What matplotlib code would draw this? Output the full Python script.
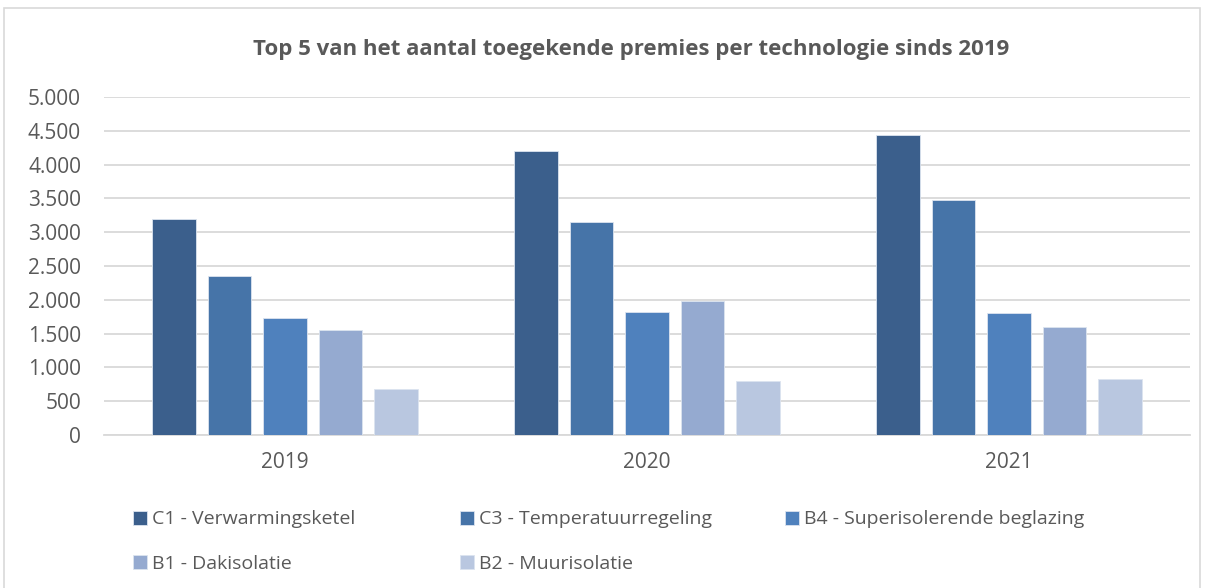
import matplotlib
matplotlib.use("Agg")
import matplotlib.pyplot as plt
import numpy as np
from matplotlib.patches import Rectangle

years = ["2019", "2020", "2021"]
series = ["C1 - Verwarmingsketel", "C3 - Temperatuurregeling",
          "B4 - Superisolerende beglazing", "B1 - Dakisolatie", "B2 - Muurisolatie"]
c1 = [3190, 4195, 4440]
c3 = [2345, 3145, 3470]
b4 = [1735, 1815, 1810]
b1 = [1550, 1980, 1600]
b2 = [680, 800, 825]
values = [c1, c3, b4, b1, b2]
colors = ["#3b5f8c", "#4674a8", "#4f81bd", "#95aad0", "#b9c7e0"]
yticks = [0, 500, 1000, 1500, 2000, 2500, 3000, 3500, 4000, 4500, 5000]
ytick_labels = ["0", "500", "1.000", "1.500", "2.000", "2.500", "3.000",
                "3.500", "4.000", "4.500", "5.000"]

plt.rcParams['font.family'] = ['Open Sans', 'DejaVu Sans']
W, H = 1205, 588
fig = plt.figure(figsize=(W / 100, H / 100), dpi=100)

# chart border
fig.patches.append(Rectangle((4 / W, -0.1), 1196 / W, (H - 8) / H + 0.1,
                             transform=fig.transFigure, fill=False,
                             edgecolor="#d9d9d9", linewidth=1.2))

ax = fig.add_axes([104 / W, (H - 435) / H, 1086 / W, 338 / H])
x = np.arange(len(years))
width = 0.12
pitch = 0.1536
handles = []
for i, (vals, col, name) in enumerate(zip(values, colors, series)):
    b = ax.bar(x + (i - 2) * pitch, vals, width, color=col, edgecolor="#dce4ef",
               linewidth=0.6, label=name, zorder=3)
    handles.append(b)

ax.set_xlim(-0.5, 2.5)
ax.set_ylim(0, 5000)
ax.set_yticks(yticks)
ax.set_yticklabels(ytick_labels)
ax.set_xticks(x)
ax.set_xticklabels(years)
ax.yaxis.grid(True, color="#d9d9d9", linewidth=1.3, zorder=0)
for s in ["top", "right", "left"]:
    ax.spines[s].set_visible(False)
ax.spines["bottom"].set_color("#d9d9d9")
ax.spines["bottom"].set_linewidth(1.3)
ax.tick_params(axis="both", length=0, labelsize=15, labelcolor="#595959")
ax.tick_params(axis="y", pad=16.5)
ax.tick_params(axis="x", pad=12)

fig.text(631 / W, 1 - 50 / H, "Top 5 van het aantal toegekende premies per technologie sinds 2019",
         ha="center", va="center", fontsize=16, fontweight="bold", color="#595959")

# legend entries: (series index, marker left x px, row centre y px)
positions = [(0, 133, 519.5), (1, 460, 519.5), (2, 785, 519.5),
             (3, 133, 564), (4, 460, 564)]
for i, xp, yp in positions:
    leg = fig.legend([handles[i]], [series[i]],
                     loc="center left", bbox_to_anchor=(xp / W, 1 - yp / H),
                     frameon=False, fontsize=14, handlelength=0.7, handleheight=0.7,
                     handletextpad=0.26, borderpad=0, borderaxespad=0)
    for t in leg.get_texts():
        t.set_color("#595959")

fig.savefig("out.png", dpi=100, facecolor="white")
